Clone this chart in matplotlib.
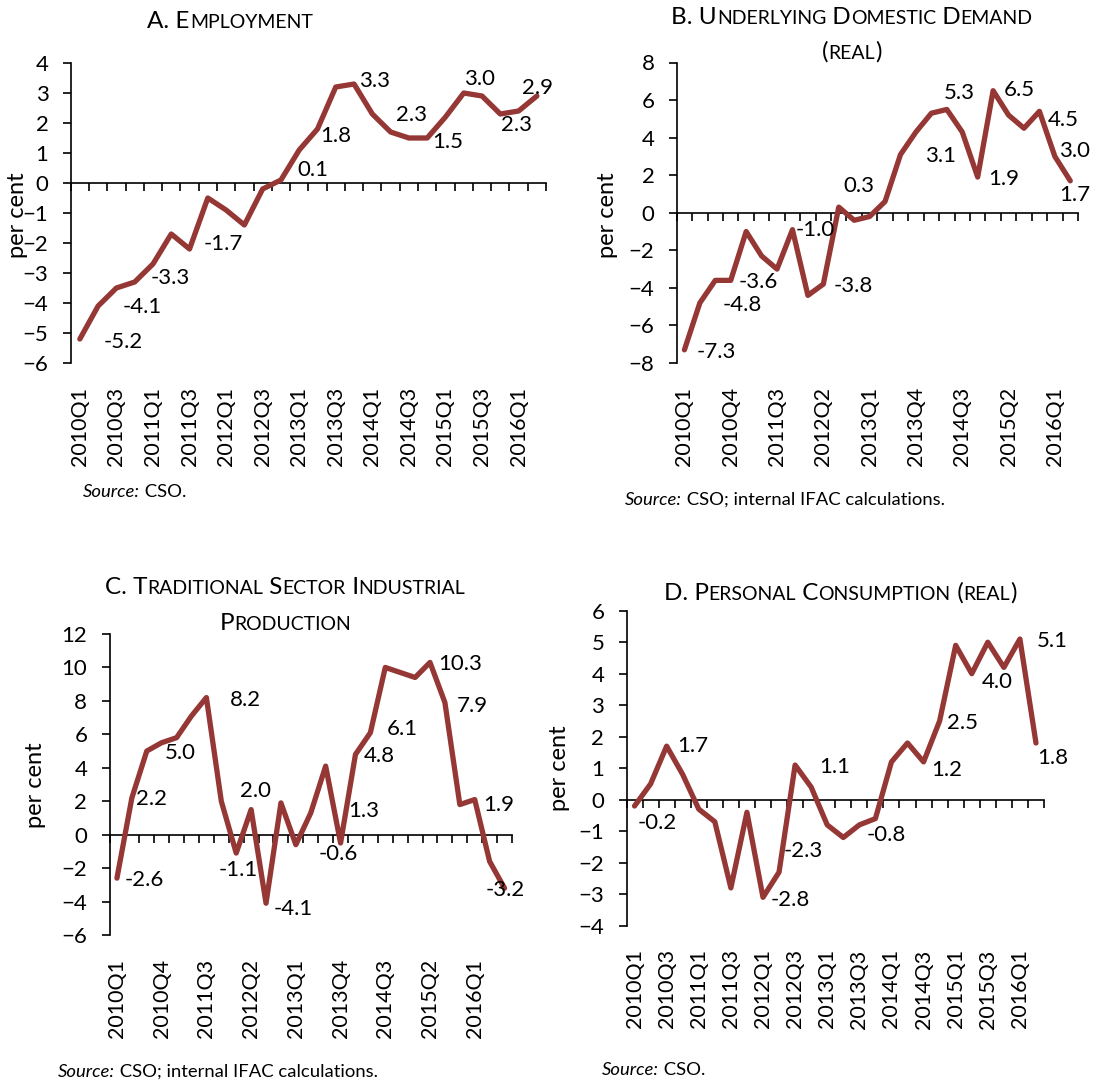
import matplotlib
matplotlib.use("Agg")
import matplotlib.pyplot as plt
from matplotlib.offsetbox import TextArea, HPacker, AnnotationBbox

plt.rcParams['font.family'] = ['Lato', 'DejaVu Sans']

W, H = 1095, 1082
RED = '#953735'

quarters = [f'{y}Q{q}' for y in range(2010, 2017) for q in range(1, 5)]

# annual % changes
employment = [-5.2, -4.1, -3.5, -3.3, -2.7, -1.7, -2.2, -0.5, -0.9, -1.4, -0.2, 0.1, 1.1,
              1.8, 3.2, 3.3, 2.3, 1.7, 1.5, 1.5, 2.2, 3.0, 2.9, 2.3, 2.4, 2.9]
demand = [-7.3, -4.8, -3.6, -3.6, -1.0, -2.3, -3.0, -0.9, -4.4, -3.8, 0.3, -0.4, -0.2,
          0.6, 3.1, 4.3, 5.3, 5.5, 4.3, 1.9, 6.5, 5.2, 4.5, 5.4, 3.0, 1.7]
industrial = [-2.6, 2.2, 5.0, 5.5, 5.8, 7.1, 8.2, 2.0, -1.1, 1.5, -4.1, 1.9, -0.6, 1.3,
              4.1, -0.5, 4.8, 6.1, 10.0, 9.7, 9.4, 10.3, 7.9, 1.8, 2.1, -1.6, -3.2]
consumption = [-0.2, 0.5, 1.7, 0.8, -0.3, -0.7, -2.8, -0.4, -3.1, -2.3, 1.1, 0.4, -0.8,
               -1.2, -0.8, -0.6, 1.2, 1.8, 1.2, 2.5, 4.9, 4.0, 5.0, 4.2, 5.1, 1.8]

# data labels as placed on the chart: text, x (quarter index), y
labels_a = [('-5.2', 2.35, -5.3), ('-4.1', 3.4, -4.12), ('-3.3', 4.94, -3.17), ('-1.7', 7.83, -2.04),
            ('0.1', 12.73, 0.45), ('1.8', 13.98, 1.55), ('3.3', 16.1, 3.4), ('2.3', 18.15, 2.28),
            ('1.5', 20.13, 1.38), ('3.0', 21.87, 3.46), ('2.3', 23.88, 1.94), ('2.9', 25.04, 3.16)]
labels_b = [('-7.3', 2.09, -7.39), ('-4.8', 3.78, -4.91), ('-3.6', 4.79, -3.67), ('-1.0', 8.49, -0.92),
            ('-3.8', 10.97, -3.9), ('0.3', 11.3, 1.42), ('3.1', 16.58, 3.01), ('5.3', 17.82, 6.35),
            ('1.9', 20.7, 1.79), ('6.5', 21.69, 6.52), ('4.5', 24.56, 4.96), ('3.0', 25.28, 3.3),
            ('1.7', 25.28, 0.94)]
labels_c = [('-2.6', 1.81, -2.69), ('2.2', 2.33, 2.11), ('5.0', 4.28, 4.88), ('8.2', 8.64, 8.07),
            ('2.0', 9.29, 2.61), ('-1.1', 8.16, -2.09), ('-4.1', 11.81, -4.42), ('-0.6', 14.87, -1.18),
            ('1.3', 16.52, 1.42), ('4.8', 17.58, 4.68), ('6.1', 19.11, 6.34), ('10.3', 22.99, 10.19),
            ('7.9', 23.81, 7.67), ('1.9', 25.62, 1.79), ('-3.2', 26.05, -3.29)]
labels_d = [('1.7', 3.61, 1.7), ('-0.2', 1.4, -0.75), ('1.1', 12.46, 1.05), ('-2.3', 10.52, -1.63),
            ('-2.8', 9.7, -3.19), ('-0.8', 15.7, -1.12), ('1.2', 19.42, 0.94), ('2.5', 20.41, 2.42),
            ('4.0', 22.61, 3.74), ('5.1', 26.03, 5.05), ('1.8', 26.03, 1.31)]


def smallcaps(text, big, small, **kw):
    segs, cur, cur_small = [], '', None
    for ch in text:
        sm = ch.islower()
        if cur and sm != cur_small:
            segs.append((cur, cur_small))
            cur = ''
        cur += ch.upper() if sm else ch
        cur_small = sm
    segs.append((cur, cur_small))
    kids = [TextArea(s, textprops=dict(fontsize=small if sm else big, **kw)) for s, sm in segs]
    return HPacker(children=kids, align='baseline', pad=0, sep=0)


def put_box(fig, box, x, y, ha=0.5):
    ab = AnnotationBbox(box, (x / W, 1 - y / H), xycoords='figure fraction',
                        frameon=False, box_alignment=(ha, 0.5), pad=0)
    fig.add_artist(ab)


def panel(fig, rect, values, step, ylim, ystep, labels, title_lines, title_xy, source,
          source_xy, ylabel_xy):
    l, r, t, b = rect
    ax = fig.add_axes([l / W, 1 - b / H, (r - l) / W, (b - t) / H])
    n = len(values)
    ax.plot(range(n), values, color=RED, lw=3.8, solid_joinstyle='round', solid_capstyle='round',
            clip_on=False, zorder=3)
    ax.set_xlim(-0.5, n - 0.5)
    ax.set_ylim(*ylim)
    ax.set_yticks(range(ylim[0], ylim[1] + 1, ystep))
    for s in ['top', 'right']:
        ax.spines[s].set_visible(False)
    ax.spines['bottom'].set_position(('data', 0))
    ax.spines['left'].set_linewidth(1.2)
    ax.spines['bottom'].set_linewidth(1.2)
    ax.set_xticks([i - 0.5 for i in range(n + 1)])
    ax.tick_params(axis='x', direction='out', length=6, width=1.2, labelbottom=False)
    ax.tick_params(axis='y', direction='out', length=6, width=1.2, pad=10, labelsize=16)
    sec = ax.secondary_xaxis(0.0)
    pos = list(range(0, n, step))
    sec.set_xticks(pos, [quarters[i] for i in pos], rotation=90, fontsize=15.5)
    sec.tick_params(length=0, pad=17)
    sec.spines['bottom'].set_visible(False)
    for txt, x, y in labels:
        ax.text(x, y, txt, fontsize=16, ha='center', va='center', clip_on=False)
    for line, (tx, ty) in zip(title_lines, title_xy):
        put_box(fig, smallcaps(line, 17.5, 14), tx, ty)
    src = HPacker(children=[TextArea('Source:', textprops=dict(fontsize=13.3, style='italic')),
                            TextArea(' ' + source, textprops=dict(fontsize=13.3))],
                  align='baseline', pad=0, sep=0)
    put_box(fig, src, source_xy[0], source_xy[1], ha=0)
    fig.text(ylabel_xy[0] / W, 1 - ylabel_xy[1] / H, 'per cent', rotation=90, fontsize=17,
             ha='center', va='center')
    return ax


fig = plt.figure(figsize=(W / 100, H / 100), dpi=100)

panel(fig, (70.7, 546, 63, 363), employment, 2, (-6, 4), 1, labels_a,
      ['A. Employment'], [(230, 22)], 'CSO.', (83, 492), (18, 215))
panel(fig, (676.7, 1078, 62.5, 363), demand, 3, (-8, 8), 2, labels_b,
      ['B. Underlying Domestic Demand', '(real)'], [(852, 18), (852, 52)],
      'CSO; internal IFAC calculations.', (625, 500), (607, 215))
panel(fig, (109.5, 512, 634, 935), industrial, 3, (-6, 12), 2, labels_c,
      ['C. Traditional Sector Industrial', 'Production'], [(285, 588), (285, 623)],
      'CSO; internal IFAC calculations.', (58, 1072), (35, 785))
panel(fig, (626.5, 1044, 610.7, 925.7), consumption, 2, (-4, 6), 1, labels_d,
      ['D. Personal Consumption (real)'], [(840, 593)], 'CSO.', (602, 1070), (559, 768))

fig.savefig('out.png', dpi=100)
